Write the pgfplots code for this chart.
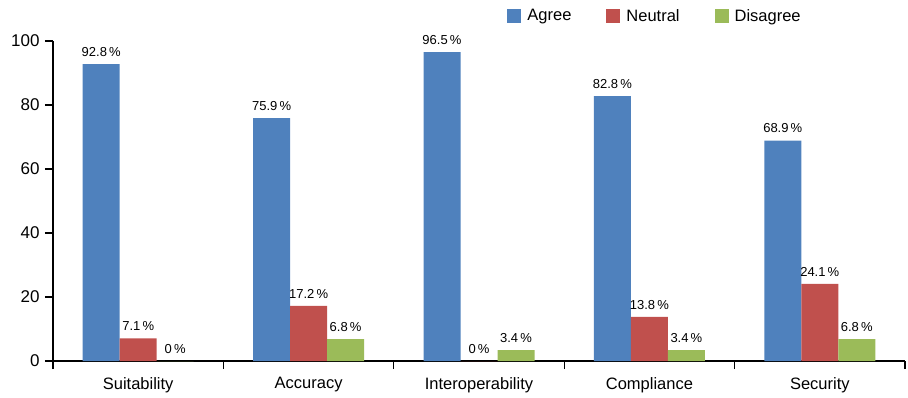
\documentclass[border=0pt]{standalone}
\usepackage{fontspec}
\setmainfont{Liberation Sans}
\usepackage{pgfplots}
\pgfplotsset{compat=1.18}
\definecolor{cAgree}{HTML}{4F81BD}
\definecolor{cNeutral}{HTML}{C0504D}
\definecolor{cDisagree}{HTML}{9BBB59}
\begin{document}
\begin{tikzpicture}
\begin{axis}[
  name=ax,
  scale only axis,
  width=852pt, height=320pt,
  ybar=0pt, bar width=37pt,
  xmin=-0.5, xmax=4.5,
  ymin=0, ymax=100,
  axis x line*=bottom, axis y line*=left,
  axis line style={-, line width=1.2pt},
  xtick={-0.5,0.5,...,4.5},
  x tick label as interval=true,
  xticklabels={Suitability,Accuracy,Interoperability,Compliance,Security},
  ytick={0,20,...,100},
  tick align=outside,
  major tick length=8pt,
  tick style={line width=1.2pt, black},
  /pgf/number format/assume math mode=true,
  yticklabel style={font=\fontsize{17}{20}\selectfont, xshift=-2pt},
  xticklabel style={font=\fontsize{16.5}{19}\selectfont, yshift=-5pt},
  nodes near coords={\pgfmathprintnumber[fixed,precision=1]{\pgfplotspointmeta}\,\%},
  every node near coord/.append style={font=\fontsize{13}{15}\selectfont, yshift=4pt},
  legend style={draw=none, at={(0.7066,1.078)}, anchor=center, legend columns=3,
    font=\fontsize{16.5}{19}\selectfont,
    /tikz/every odd column/.append style={column sep=4pt},
    /tikz/every even column/.append style={column sep=33pt}},
  legend image code/.code={\fill[#1] (0pt,-6.5pt) rectangle (14pt,7.5pt);},
]
\addplot[fill=cAgree, draw=none] coordinates {(0,92.8) (1,75.9) (2,96.5) (3,82.8) (4,68.9)};
\addplot[fill=cNeutral, draw=none] coordinates {(0,7.1) (1,17.2) (2,0) (3,13.8) (4,24.1)};
\addplot[fill=cDisagree, draw=none] coordinates {(0,0) (1,6.8) (2,3.4) (3,3.4) (4,6.8)};
\legend{Agree,Neutral,Disagree}
\end{axis}
\pgfresetboundingbox
\path ([shift={(-53pt,-36pt)}]ax.south west) rectangle ([shift={(3pt,41pt)}]ax.north east);
\end{tikzpicture}
\end{document}
